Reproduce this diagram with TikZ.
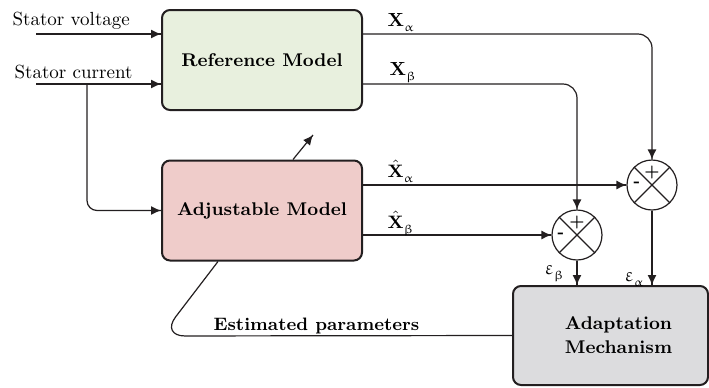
\documentclass[tikz,border=0pt]{standalone}
\usepackage{upgreek}
\usepackage{tikz}
\usetikzlibrary{arrows.meta}
\usetikzlibrary{decorations.markings}
\usetikzlibrary{positioning}
\tikzset{->/.style = {decoration={markings,
                                  mark=at position 1 with {\arrow{Latex[length=5pt, width=4.5pt]}}},
                      postaction={decorate}}}
\tikzset{block/.style = {draw=mdark, line width=1pt, rounded corners=4pt,
                         minimum width=100pt, minimum height=50pt,
                         font=\fontsize{9.2}{12}\selectfont\bfseries, align=center}}
\tikzset{sum/.style = {draw=mdark, line width=0.6pt, circle, minimum size=25pt, inner sep=0pt}}
\tikzset{sig/.style = {anchor=base west, inner sep=0pt}}
\tikzset{sign/.style = {inner sep=0pt, font=\fontsize{8}{8}\selectfont\bfseries}}
\definecolor{mdark}{RGB}{35,31,32}
\definecolor{mgreen}{RGB}{232,240,222}
\definecolor{mpink}{RGB}{239,204,202}
\definecolor{mgray}{RGB}{220,220,222}
\newcommand{\lowidx}[1]{\raisebox{-2.5pt}{\fontsize{6}{7}\selectfont$#1$}}

\begin{document}
\begin{tikzpicture}[x=0.5pt, y=-0.5pt, line width=0.6pt, draw=mdark, font=\fontsize{9.5}{12}\selectfont]
    \useasboundingbox (0, 0) rectangle (709, 387);

    \node [block, fill=mgreen] (ref) at (262, 60) {Reference Model};
    \node [block, fill=mpink] (adj) at (262, 210.5) {Adjustable Model};
    \node [block, fill=mgray, minimum width=97.5pt, minimum height=49.5pt] (am) at (610.5, 335.5) {\hspace{8pt}Adaptation\\\hspace{8pt}Mechanism};

    \node [sum] (sa) at (652, 185) {};
    \node [sum] (sb) at (577, 235) {};
    \draw [line width=0.6pt] (sa.north west) -- (sa.south east) (sa.north east) -- (sa.south west);
    \draw [line width=0.6pt] (sb.north west) -- (sb.south east) (sb.north east) -- (sb.south west);
    \node [sign] (sap) at (652, 172) {+};
    \node [sign] (sam) at (637, 184) {-};
    \node [sign] (sbp) at (577, 222) {+};
    \node [sign] (sbm) at (561, 235) {-};

    \coordinate (sv) at (36, 34);
    \coordinate (sc) at (36, 84);
    \coordinate (br) at (87, 84);
    \coordinate (tune) at (313, 135);
    \coordinate (bend) at (161, 336);

    \node [sig] (svl) at (12, 25) {Stator voltage};
    \node [sig] (scl) at (14, 78) {Stator current};

    \draw [->] (sv) -- (sv -| ref.west);
    \draw [->] (sc) -- (sc -| ref.west);
    \draw [->, rounded corners=5pt] (br) |- (adj.west);

    \draw [->, rounded corners=7pt] (sv -| ref.east) -| (sa.north);
    \draw [->, rounded corners=7pt] (sc -| ref.east) -| (sb.north);
    \draw [->] (adj.east |- sa) -- (sa.west);
    \draw [->] (adj.east |- sb) -- (sb.west);

    \draw [->] (sb.south) -- (sb.south |- am.north);
    \draw [->] (sa.south) -- (sa.south |- am.north);

    \draw [->] ([xshift=15.5pt]adj.north) -- (tune);
    \draw [rounded corners=12pt] (am.west) -- (bend) -- ([xshift=-22pt]adj.south);

    \node [sig] (xa) at (387, 26) {\textbf{X}\lowidx{\upalpha}};
    \node [sig] (xb) at (389, 75) {\textbf{X}\lowidx{\upbeta}};
    \node [sig] (xha) at (387, 177) {$\hat{\mathbf{X}}$\lowidx{\upalpha}};
    \node [sig] (xhb) at (387, 228) {$\hat{\mathbf{X}}$\lowidx{\upbeta}};
    \node [sig] (eb) at (544, 274) {$\upvarepsilon$\lowidx{\upbeta}};
    \node [sig] (ea) at (624, 281) {$\upvarepsilon$\lowidx{\upalpha}};
    \node [sig, font=\fontsize{9}{12}\selectfont\bfseries] (est) at (213, 330) {Estimated parameters};
\end{tikzpicture}
\end{document}
